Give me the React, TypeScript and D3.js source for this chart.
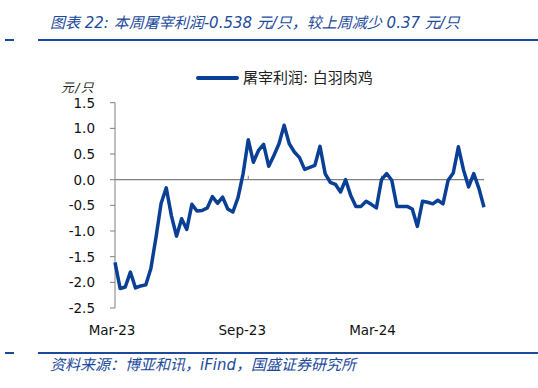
import React from 'react';
import * as d3 from 'd3';

// weekly slaughter profit, white-feather broiler (yuan / bird)
const profit = [
  -1.61, -2.12, -2.09, -1.80, -2.11, -2.07, -2.05, -1.73, -1.12, -0.46,
  -0.16, -0.70, -1.10, -0.76, -0.97, -0.48, -0.61, -0.60, -0.55, -0.33,
  -0.46, -0.34, -0.57, -0.63, -0.35, 0.12, 0.78, 0.34, 0.57, 0.69,
  0.26, 0.47, 0.70, 1.06, 0.70, 0.54, 0.43, 0.20, 0.24, 0.28,
  0.65, 0.12, -0.05, -0.09, -0.24, 0.00, -0.31, -0.52, -0.52, -0.42,
  -0.48, -0.55, 0.00, 0.12, -0.01, -0.52, -0.52, -0.52, -0.57, -0.91,
  -0.42, -0.44, -0.47, -0.40, -0.47, -0.01, 0.13, 0.64, 0.19, -0.14,
  0.12, -0.168, -0.538,
];
// week index of 1 Mar 2023, 1 Sep 2023, 1 Mar 2024
const xTickIdx = [0, 26, 52];
const xTickLabels = ['Mar-23', 'Sep-23', 'Mar-24'];
const yTicks = [1.5, 1.0, 0.5, 0.0, -0.5, -1.0, -1.5, -2.0, -2.5];

const W = 538;
const H = 388;
const BLUE = '#1b4a9c';
const LINE = '#0a3f96';
const AXIS = '#808080';
const NUM_FONT = '"DejaVu Sans", "Noto Sans CJK SC", sans-serif';
const CJK_FONT = '"DejaVu Sans", "Noto Sans CJK SC", sans-serif';

export default function App() {
  const x = d3.scaleLinear().domain([0, profit.length - 1]).range([115, 484]);
  const y = d3.scaleLinear().domain([-2.5, 1.5]).range([308, 102.7]);

  const linePath = d3
    .line<number>()
    .x((_, i) => x(i))
    .y((d) => y(d))(profit);

  return (
    <div style={{ position: 'absolute', left: 0, top: 0 }}>
      <svg width={W} height={H} style={{ display: 'block' }}>
        <rect width={W} height={H} fill="#fff" />
        {/* title */}
        <text x={50} y={28} fill={BLUE} fontSize={15} fontStyle="italic" fontFamily={CJK_FONT}>
          图表 22:  本周屠宰利润-0.538 元/只，较上周减少 0.37 元/只
        </text>
        <line x1={5} x2={14} y1={40} y2={40} stroke={BLUE} strokeWidth={2} />
        <line x1={38} x2={W} y1={40} y2={40} stroke={BLUE} strokeWidth={2} />

        {/* legend */}
        <line x1={198} x2={237} y1={78} y2={78} stroke={LINE} strokeWidth={4} strokeLinecap="round" />
        <text x={243} y={83} fill="#222" fontSize={15} fontFamily={CJK_FONT}>
          屠宰利润: 白羽肉鸡
        </text>

        {/* y unit */}
        <text x={95} y={92} textAnchor="end" fill="#222" fontSize={12.5} fontStyle="italic" fontFamily={CJK_FONT} letterSpacing={1.5}>
          元/只
        </text>

        {/* y axis */}
        <line x1={115} x2={115} y1={y(1.5)} y2={y(-2.5)} stroke={AXIS} strokeWidth={1} />
        {yTicks.map((t) => (
          <g key={t}>
            <line x1={110} x2={115} y1={y(t)} y2={y(t)} stroke={AXIS} />
            <text
              x={95}
              y={y(t) + 5}
              textAnchor="end"
              fill="#111"
              fontSize={13.5}
              fontFamily={NUM_FONT}
            >
              {t.toFixed(1)}
            </text>
          </g>
        ))}

        {/* x axis at zero */}
        <line x1={115} x2={484} y1={y(0)} y2={y(0)} stroke={AXIS} strokeWidth={1.2} />
        {xTickIdx.map((idx, i) => (
          <g key={idx}>
            {i > 0 && <line x1={x(idx)} x2={x(idx)} y1={y(0) - 4} y2={y(0)} stroke={AXIS} />}
            <text x={x(idx) - 3 - i * 3} y={335} textAnchor="middle" fill="#111" fontSize={13.5} fontFamily={NUM_FONT}>
              {xTickLabels[i]}
            </text>
          </g>
        ))}

        <path d={linePath || ''} fill="none" stroke={LINE} strokeWidth={3.5} strokeLinejoin="round" />

        {/* footer */}
        <line x1={5} x2={14} y1={353} y2={353} stroke={BLUE} strokeWidth={2} />
        <line x1={38} x2={W} y1={353} y2={353} stroke={BLUE} strokeWidth={2} />
        <text x={50} y={370} fill={BLUE} fontSize={15} fontStyle="italic" fontFamily={CJK_FONT}>
          资料来源：博亚和讯，iFind，国盛证券研究所
        </text>
      </svg>
    </div>
  );
}
